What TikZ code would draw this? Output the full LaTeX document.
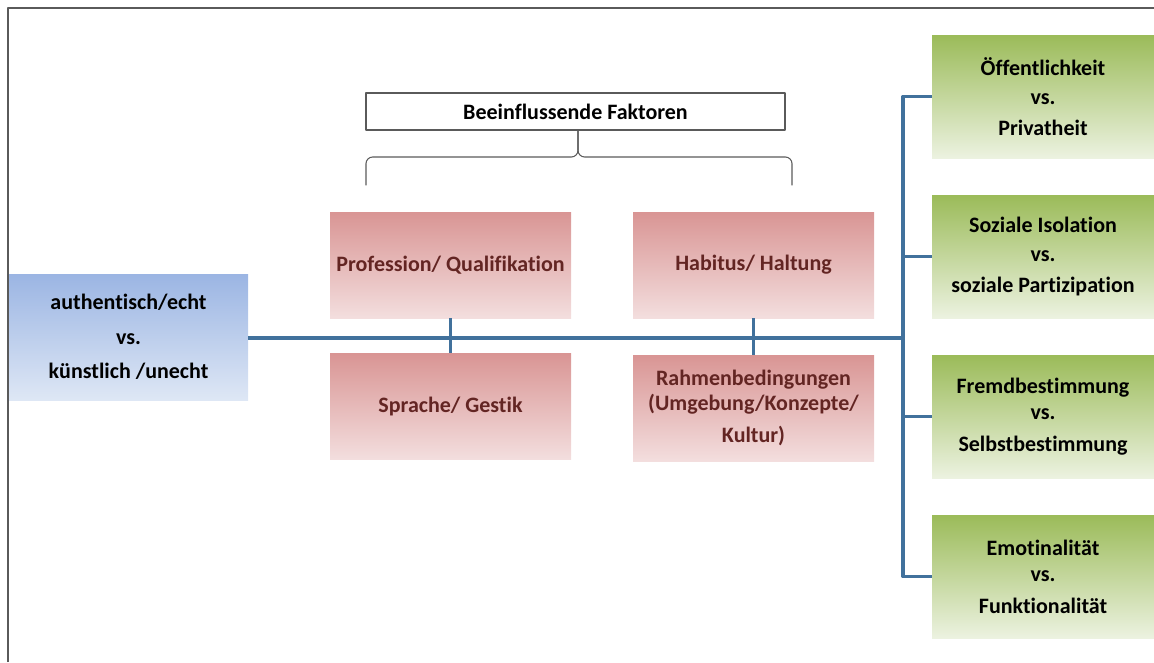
\documentclass[tikz,border=0pt]{standalone}
\usepackage{fontspec}
\setmainfont{Carlito}[Ligatures=NoCommon]
\usetikzlibrary{positioning}
\definecolor{linie}{RGB}{65,113,156}
\definecolor{rahmen}{RGB}{90,90,90}
\definecolor{blauO}{RGB}{155,181,227}
\definecolor{blauU}{RGB}{222,231,245}
\definecolor{rotO}{RGB}{217,149,148}
\definecolor{rotU}{RGB}{243,222,222}
\definecolor{rotT}{RGB}{99,37,35}
\definecolor{gruenO}{RGB}{155,187,89}
\definecolor{gruenU}{RGB}{236,242,224}

\begin{document}
\begin{tikzpicture}[line cap=round,line join=round,x=0.75pt,y=-0.75pt,
    box/.style={inner sep=0pt, align=center, font=\fontsize{16.5}{19}\selectfont\bfseries},
    main/.style={box, top color=blauO, bottom color=blauU, minimum width=179.25pt, minimum height=94.5pt},
    fak/.style={box, text=rotT, top color=rotO, bottom color=rotU, minimum width=180.75pt, minimum height=79.5pt},
    pol/.style={box, top color=gruenO, bottom color=gruenU, minimum width=166.5pt, minimum height=92.25pt},
    head/.style={box, draw=rahmen, line width=0.9pt, fill=white, minimum width=314.25pt, minimum height=27.75pt},
    link/.style={draw=linie, line width=2.6pt, line cap=butt},
    klammer/.style={draw=rahmen, line width=0.8pt, rounded corners=5pt}]
    \useasboundingbox (0,0) rectangle (1154,662);
    \draw [rahmen, line width=1.1pt, line cap=butt] (8,662) -- (8,8) -- (1154,8);

    \node[main] (a) at (128.5,337) {authentisch/echt\\[7pt] vs.\\[7pt] künstlich /unecht};

    \node[head] (hd) at (575.5,111.5) {Beeinflussende Faktoren};
    \coordinate (tip) at (578,131);
    \draw [klammer] (366,185) -- (366,157) -- (578,157) -- (tip);
    \draw [klammer] (792,185) -- (792,157) -- (578,157) -- (tip);

    \node[fak] (p1) at (450.5,265) {Profession/ Qualifikation};
    \node[fak] (p2) at (450.5,406.5) {Sprache/ Gestik};
    \node[fak] (p3) at (753.5,265) {Habitus/ Haltung};
    \node[fak] (p4) at (753.5,408) {Rahmenbedingungen\\ (Umgebung/Konzepte/\\[5pt] Kultur)};

    \node[pol] (g1) at (1043,96.5) {Öffentlichkeit\\[2.5pt] vs.\\[4pt] Privatheit};
    \node[pol] (g2) at (1043,256.5) {Soziale Isolation\\[2.5pt] vs.\\[4pt] soziale Partizipation};
    \node[pol] (g3) at (1043,416.5) {Fremdbestimmung\\[1pt] vs.\\[5pt] Selbstbestimmung};
    \node[pol] (g4) at (1043,576.5) {Emotinalität\\[0.5pt] vs.\\[5pt] Funktionalität};

    \coordinate (sp) at (903,338);
    \draw [link] (a.east |- sp) -- (sp);
    \draw [link] (g1.west) -| (sp) |- (g4.west);
    \draw [link] (g2.west) -- (g2.west -| sp);
    \draw [link] (g3.west) -- (g3.west -| sp);
    \draw [link] (p1.south) -- (p2.north);
    \draw [link] (p3.south) -- (p4.north);
\end{tikzpicture}
\end{document}
